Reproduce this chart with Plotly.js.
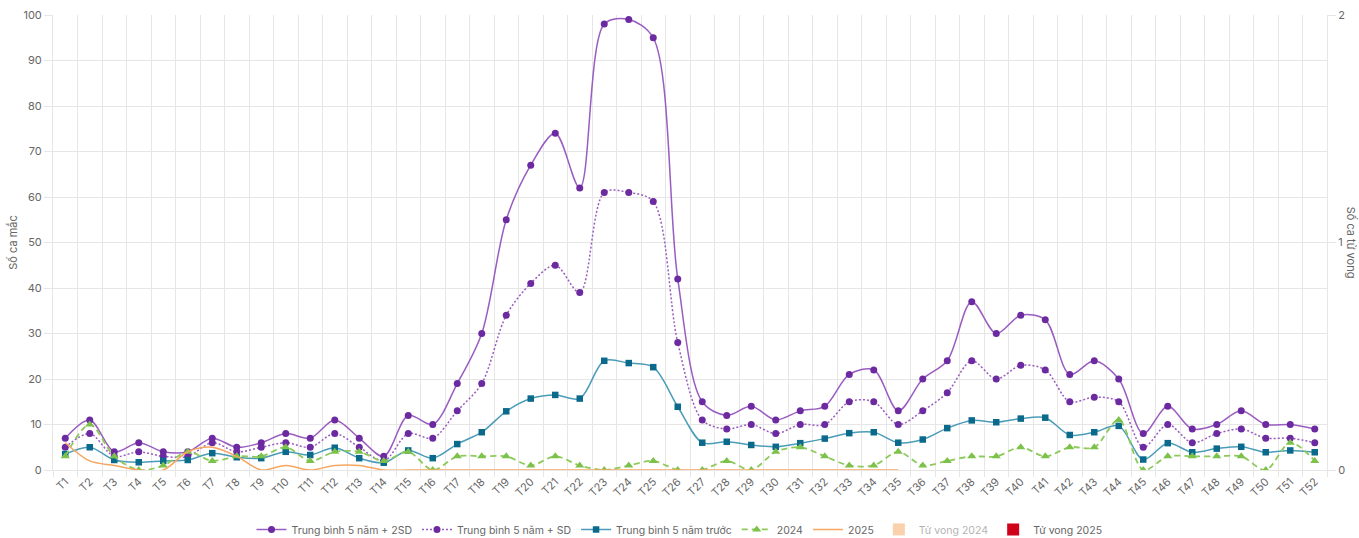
<!DOCTYPE html>
<html>
<head>
<meta charset="utf-8">
<script src="https://cdn.plot.ly/plotly-3.0.1.min.js"></script>
<style>html,body{margin:0;padding:0;background:#fff;}#chart{width:1359px;height:538px;}</style>
</head>
<body>
<div id="chart"></div>
<script>
const weeks = Array.from({length: 52}, (_, i) => 'T' + (i + 1));

const mean2SD = [7,11,4,6,4,4,7,5,6,8,7,11,7,3,12,10,19,30,55,67,74,62,98,99,95,42,15,12,14,11,13,14,21,22,13,20,24,37,30,34,33,21,24,20,8,14,9,10,13,10,10,9];
const meanSD = [5,8,3,4,3,3,6,4,5,6,5,8,5,2,8,7,13,19,34,41,45,39,61,61,59,28,11,9,10,8,10,10,15,15,10,13,17,24,20,23,22,15,16,15,5,10,6,8,9,7,7,6];
const mean5y = [3.5,5,2.2,1.7,2,2.2,3.7,2.8,2.6,4,3.3,4.9,2.6,1.6,4.3,2.6,5.7,8.3,12.9,15.7,16.5,15.7,24,23.5,22.6,13.9,6,6.2,5.5,5.1,5.9,6.9,8.1,8.3,6,6.7,9.2,10.9,10.5,11.3,11.5,7.7,8.3,9.7,2.3,5.9,3.9,4.7,5.1,3.9,4.3,3.9];
const cases2024 = [3,10,3,0,1,4,2,3,3,5,2,4,4,2,4,0,3,3,3,1,3,1,0,1,2,0,0,2,0,4,5,3,1,1,4,1,2,3,3,5,3,5,5,11,0,3,3,3,3,0,6,2];
const cases2025 = [6,2,1,0,0,4,5,3,0,1,0,1,1,0,0,0,0,0,0,0,0,0,0,0,0,0,0,0,0,0,0,0,0,0,0];
const deaths2024 = new Array(52).fill(0);
const deaths2025 = new Array(35).fill(0);

const names = ['Trung bình 5 năm + 2SD','Trung bình 5 năm + SD','Trung bình 5 năm trước','2024','2025','Tử vong 2024','Tử vong 2025'];

const traces = [
  {type:'scatter', mode:'lines+markers', name:names[0], x:weeks, y:mean2SD,
   line:{color:'#9a5cc0', width:1.5, shape:'spline', smoothing:0.9},
   marker:{symbol:'circle', size:7, color:'#6c2aa0'}},
  {type:'scatter', mode:'lines+markers', name:names[1], x:weeks, y:meanSD,
   line:{color:'#9a5cc0', width:1.5, dash:'2px,2px', shape:'spline', smoothing:0.9},
   marker:{symbol:'circle', size:7, color:'#6c2aa0'}},
  {type:'scatter', mode:'lines+markers', name:names[2], x:weeks, y:mean5y,
   line:{color:'#4a9cb8', width:1.5, shape:'spline', smoothing:0.9},
   marker:{symbol:'square', size:6.5, color:'#0b6a8c'}},
  {type:'scatter', mode:'lines+markers', name:names[3], x:weeks, y:cases2024,
   line:{color:'#8dca5a', width:1.8, dash:'6px,4px', shape:'spline', smoothing:0.9},
   marker:{symbol:'triangle-up', size:8, color:'#7cc24a'}},
  {type:'scatter', mode:'lines', name:names[4], x:weeks.slice(0, cases2025.length), y:cases2025,
   line:{color:'#f7a65f', width:1.5, shape:'spline', smoothing:0.9}},
  {type:'bar', name:names[5], x:weeks, y:deaths2024, yaxis:'y2', visible:'legendonly',
   marker:{color:'#f5a35c'}},
  {type:'bar', name:names[6], x:weeks.slice(0, deaths2025.length), y:deaths2025, yaxis:'y2',
   marker:{color:'#d0021b'}}
];

const gridC = '#e6e6e6';
const layout = {
  width:1359, height:538,
  margin:{l:53, r:32, t:15, b:68, autoexpand:false},
  paper_bgcolor:'#fff', plot_bgcolor:'#fff',
  font:{family:'Inter, "Open Sans", sans-serif', size:11, color:'#666'},
  showlegend:true,
  legend:{orientation:'h', x:0.5, xanchor:'center', xref:'container', y:0.016, yanchor:'middle', yref:'container',
          font:{size:10.5, color:'#666'}, itemwidth:30, traceorder:'normal', tracegroupgap:0},
  xaxis:{type:'category', range:[-0.5, 51.5], tickson:'boundaries', showgrid:true, gridcolor:gridC,
         ticks:'outside', ticklen:6, tickcolor:gridC, tickangle:-45, showline:true, linecolor:gridC,
         tickfont:{size:11, color:'#666'}, zeroline:false, automargin:false},
  yaxis:{range:[0,100], dtick:10, showgrid:true, gridcolor:gridC, zeroline:false,
         ticks:'outside', ticklen:8, tickcolor:gridC, showline:true, linecolor:gridC,
         tickfont:{size:11, color:'#666'}, automargin:false},
  yaxis2:{range:[0,2], dtick:1, overlaying:'y', side:'right', showgrid:false, zeroline:false,
          ticks:'outside', ticklen:8, tickcolor:gridC, showline:true, linecolor:gridC,
          tickfont:{size:11, color:'#666'}, automargin:false},
  annotations:[
    {text:'Số ca mắc', xref:'paper', yref:'paper', x:-0.032, y:0.5,
     xanchor:'center', yanchor:'middle', textangle:-90, showarrow:false,
     font:{size:11, color:'#666'}},
    {text:'Số ca tử vong', xref:'paper', yref:'paper', x:1.0195, y:0.5,
     xanchor:'center', yanchor:'middle', textangle:90, showarrow:false,
     font:{size:11, color:'#666'}}]
};

Plotly.newPlot('chart', traces, layout, {displayModeBar:false, staticPlot:true});
</script>
</body>
</html>
